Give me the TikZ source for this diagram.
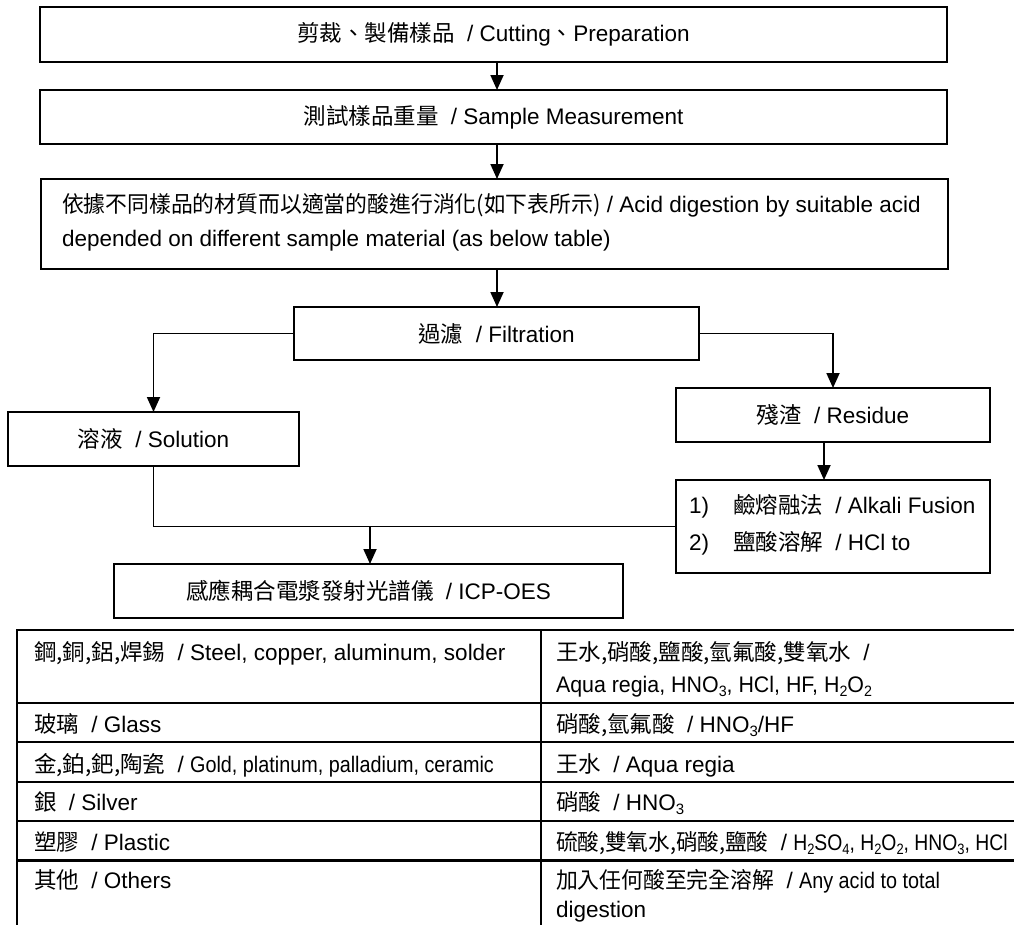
\documentclass[tikz,border=0pt]{standalone}
\usepackage{fontspec}
\usepackage{graphicx}
\setmainfont{Liberation Sans}
\newfontfamily\cjk{Noto Sans CJK TC}
\usetikzlibrary{arrows.meta}
\newcommand{\zsep}{\hspace{0.55em}/ }
\newcommand{\chemsub}[1]{\raisebox{-0.2em}{\fontsize{15}{15}\selectfont #1}}
\newcommand{\squeeze}[2]{\scalebox{#1}[1]{#2}}
\begin{document}
\begin{tikzpicture}[x=1pt,y=-1pt,
  every node/.style={font=\fontsize{22.5}{34}\selectfont, inner sep=0pt, outer sep=0pt},
  flowbox/.style={draw, line width=1.8pt},
  txt/.style={anchor=base west},
  arr/.style={line width=1.8pt, -{Triangle[length=15pt,width=13pt]}},
  joinline/.style={line width=1.3pt},
  tline/.style={line width=2pt},
  ]
\useasboundingbox (0,0) rectangle (1014,924);
\clip (0,0) rectangle (1014,924);

% flow boxes
\node[flowbox, minimum width=907pt, minimum height=55pt] (b1) at (493.5,34.5)
  {{\cjk 剪裁、製備樣品}\zsep Cutting{\cjk 、}Preparation};
\node[flowbox, minimum width=907pt, minimum height=54pt] (b2) at (493.5,117)
  {{\cjk 測試樣品重量}\zsep Sample Measurement};
\node[flowbox, minimum width=907pt, minimum height=90pt] (b3) at (494.5,224) {};
\node[txt] (b3a) at (62,212) {\squeeze{0.97}{\cjk 依據不同樣品的材質而以適當的酸進行消化(如下表所示)} / Acid digestion by suitable acid};
\node[txt] (b3b) at (62,246) {depended on different sample material (as below table)};

\node[flowbox, minimum width=405pt, minimum height=53pt] (fb) at (496.5,333.5)
  {{\cjk 過濾}\zsep Filtration};
\node[flowbox, minimum width=291pt, minimum height=54pt] (sb) at (153.5,439)
  {{\cjk 溶液}\zsep Solution};
\node[flowbox, minimum width=314pt, minimum height=54pt] (rb) at (833,415)
  {{\cjk 殘渣}\zsep Residue};
\node[flowbox, minimum width=314pt, minimum height=93pt] (ab) at (833,526.5) {};
\node[txt] (ab1) at (689,513) {\makebox[44pt][l]{1)}{\cjk 鹼熔融法}\zsep Alkali Fusion};
\node[txt] (ab2) at (689,550) {\makebox[44pt][l]{2)}{\cjk 鹽酸溶解}\zsep HCl to};
\node[flowbox, minimum width=509pt, minimum height=54pt] (ib) at (368.5,591)
  {{\cjk 感應耦合電漿發射光譜儀}\zsep ICP-OES};

% connectors
\draw[arr] ([xshift=3.5pt]b1.south) -- ([xshift=3.5pt]b2.north);
\draw[arr] ([xshift=3.5pt]b2.south) -- ([xshift=2.5pt]b3.north);
\draw[arr] ([xshift=2.5pt]b3.south) -- ([xshift=0.5pt]fb.north);
\draw[arr] (fb.west) -| (sb.north);
\draw[arr] (fb.east) -| (rb.north);
\draw[arr] ([xshift=-9pt]rb.south) -- ([xshift=-9pt]ab.north);
\draw[joinline] (sb.south) |- (ab.west);
\coordinate (j) at (370,526.5);
\draw[arr] (j) -- (j |- ib.north);

% table
\draw[line width=2.6pt] (17,630) -- (1020,630);
\draw[tline] (17,703) -- (1020,703);
\draw[tline] (17,742) -- (1020,742);
\draw[tline] (17,782) -- (1020,782);
\draw[tline] (17,821) -- (1020,821);
\draw[line width=3pt] (17,860) -- (1020,860);
\draw[tline] (17,629) -- (17,930);
\draw[tline] (541,629) -- (541,930);

% table text, left column
\node[txt] (l1) at (34,660) {{\cjk 鋼,銅,鋁,焊錫}\zsep Steel, copper, aluminum, solder};
\node[txt] (l2) at (34,732) {{\cjk 玻璃}\zsep Glass};
\node[txt] (l3) at (34,772) {{\cjk 金,鉑,鈀,陶瓷}\zsep\squeeze{0.88}{Gold, platinum, palladium, ceramic}};
\node[txt] (l4) at (34,810) {{\cjk 銀}\zsep Silver};
\node[txt] (l5) at (34,850) {{\cjk 塑膠}\zsep Plastic};
\node[txt] (l6) at (34,888) {{\cjk 其他}\zsep Others};

% table text, right column
\node[txt] (r1a) at (556,660) {{\cjk 王水,硝酸,鹽酸,氫氟酸,雙氧水}\zsep};
\node[txt] (r1b) at (556,692) {\squeeze{0.95}{Aqua regia, HNO\chemsub{3}, HCl, HF, H\chemsub{2}O\chemsub{2}}};
\node[txt] (r2) at (556,732) {{\cjk 硝酸,氫氟酸}\zsep HNO\chemsub{3}/HF};
\node[txt] (r3) at (556,772) {{\cjk 王水}\zsep Aqua regia};
\node[txt] (r4) at (556,810) {{\cjk 硝酸}\zsep HNO\chemsub{3}};
\node[txt] (r5) at (556,850) {\squeeze{0.96}{\cjk 硫酸,雙氧水,硝酸,鹽酸}\zsep\squeeze{0.86}{H\chemsub{2}SO\chemsub{4}, H\chemsub{2}O\chemsub{2}, HNO\chemsub{3}, HCl}};
\node[txt] (r6a) at (556,888) {\squeeze{0.97}{\cjk 加入任何酸至完全溶解}\zsep\squeeze{0.88}{Any acid to total}};
\node[txt] (r6b) at (556,917) {digestion};
\end{tikzpicture}
\end{document}
